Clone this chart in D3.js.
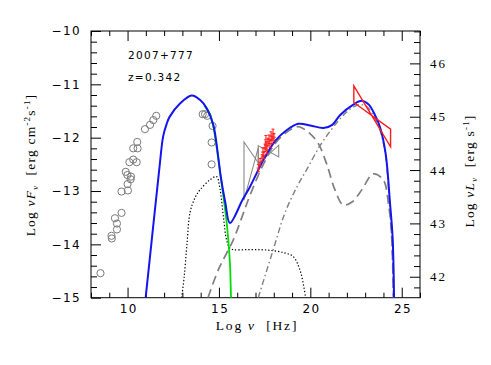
<!DOCTYPE html>
<html><head><meta charset="utf-8">
<script src="https://cdn.jsdelivr.net/npm/d3@7"></script>
<style>body{margin:0;background:#fff}svg{display:block}</style>
</head><body>
<svg id="c" width="491" height="365"></svg>
<script>
// ---------------- data ----------------
const xTicksMajor = [10, 15, 20, 25];
const yTicksMajor = [-15, -14, -13, -12, -11, -10];
const yRTicksMajor = [42, 43, 44, 45, 46];
const lumOffset = 56.607;   // log nuL_nu - log nuF_nu

// archival radio/mm/IR/optical points (gray circles)
const archNu = [8.52, 9.12, 9.14, 9.31, 9.42, 9.42, 9.67, 9.67, 10.02, 10.0, 10.17, 9.99, 9.9, 10.19,
  10.1, 10.31, 10.5, 10.31, 10.55, 10.53, 10.95, 11.23, 11.41, 11.57, 14.11, 14.24, 14.36, 14.65, 14.6, 14.6];
const archF = [-14.54, -13.84, -13.89, -13.51, -13.72, -13.61, -13.41, -13.01, -12.99, -12.87, -12.78, -12.7, -12.64, -12.73,
  -12.46, -12.41, -12.46, -12.2, -12.2, -12.08, -11.84, -11.76, -11.67, -11.59, -11.56, -11.56, -11.59, -11.78, -12.09, -12.5];

// X-ray points (red, with error bars)
const xrNu  = [17.16, 17.25, 17.36, 17.41, 17.46, 17.52, 17.57, 17.57, 17.63, 17.68, 17.74, 17.79, 17.85, 17.9, 17.96, 18.01];
const xrF   = [-12.57, -12.46, -12.38, -12.27, -12.33, -12.19, -12.14, -12.04, -12.23, -12.08, -12.03, -12.12, -11.97, -12.04, -11.93, -11.99];
const xrErr = [0.07, 0.07, 0.06, 0.08, 0.06, 0.07, 0.06, 0.08, 0.07, 0.07, 0.08, 0.06, 0.08, 0.07, 0.09, 0.07];

// gray X-ray bow-ties [nu, F] polygons
const bowGray1 = [[16.37, -12.08], [17.15, -12.47], [17.15, -12.19], [16.37, -13.17]];
const bowGray2 = [[17.15, -12.15], [18.27, -12.36], [18.27, -12.14], [17.15, -12.5]];
// Fermi bow-tie (red)
const bowFermi = [[22.38, -11.03], [24.39, -12.17], [24.39, -11.84], [22.38, -11.34]];

// model components [log nu, log nuF_nu]
const totalModel = [[10.99,-15],[11.36,-13.8],[11.73,-12.61],[11.95,-11.97],[12.14,-11.74],[12.3,-11.61],[12.87,-11.36],
  [13.51,-11.21],[13.96,-11.29],[14.33,-11.45],[14.69,-11.76],[14.96,-12.36],[15.1,-12.73],[15.35,-13.22],[15.6,-13.6],
  [16.3,-13.16],[16.7,-12.92],[17.43,-12.42],[18.1,-12.05],[18.7,-11.86],[19.34,-11.74],[20.0,-11.77],[20.71,-11.82],
  [21.2,-11.76],[21.62,-11.58],[22.35,-11.38],[22.81,-11.31],[23.2,-11.38],[23.54,-11.58],[23.81,-11.8],[24.12,-12.3],
  [24.36,-13.23],[24.5,-13.86],[24.58,-15]];
const syncModel = [[14.2,-11.4],[14.5,-11.55],[14.69,-11.78],[14.9,-12.24],[15.05,-12.62],[15.25,-13.12],[15.4,-13.52],
  [15.52,-13.95],[15.6,-14.35],[15.66,-15]];
const diskModel = [[12.96,-15],[13.1,-14.6],[13.25,-14.0],[13.42,-13.4],[13.7,-13.12],[13.96,-12.98],[14.51,-12.79],
  [14.87,-12.73],[15.05,-12.95],[15.25,-13.5],[15.42,-13.92],[15.6,-14.07],[15.8,-14.1],[16.5,-14.1],[17.3,-14.1],
  [17.97,-14.12],[18.6,-14.16],[19.07,-14.23],[19.43,-14.48],[19.62,-14.75],[19.74,-15]];
const ecModel = [[14.4,-15],[15.0,-14.45],[15.78,-13.92],[16.3,-13.45],[16.7,-13.08],[17.43,-12.5],[18.1,-12.1],
  [18.7,-11.9],[19.2,-11.8],[19.43,-11.8],[19.9,-11.9],[20.42,-12.1],[20.9,-12.5],[21.35,-12.98],[21.8,-13.26],
  [22.3,-13.2],[22.81,-12.98],[23.44,-12.68],[23.99,-12.79],[24.27,-13.23],[24.45,-13.86],[24.54,-15]];
const sscModel = [[17.15,-15],[17.97,-14.1],[18.6,-13.42],[19.27,-12.92],[19.8,-12.6],[20.53,-12.15],[21.17,-11.84],
  [21.7,-11.62],[22.2,-11.46],[22.7,-11.38],[23.1,-11.42],[23.5,-11.62],[23.85,-11.9],[24.12,-12.35],[24.34,-13.3],
  [24.48,-14.1],[24.55,-15]];

// ---------------- chart ----------------
const L = 91, R = 420, T = 31, B = 297.7;
const svg = d3.select("#c");
const x = d3.scaleLinear().domain([8, 26]).range([L, R]);
const y = d3.scaleLinear().domain([-15, -10]).range([B, T]);
const yR = d3.scaleLinear().domain([-15 + lumOffset, -10 + lumOffset]).range([B, T]);

svg.append("defs").append("clipPath").attr("id", "clip")
  .append("rect").attr("x", L).attr("y", T).attr("width", R - L).attr("height", B - T);

const tickFont = "'DejaVu Sans', sans-serif";
const serif = "'Liberation Serif', 'DejaVu Serif', serif";

function styleAxis(g) {
  g.select(".domain").remove();
  g.selectAll("line").attr("stroke", "#000").attr("stroke-width", 1);
}
const range = (a, b, s) => d3.range(Math.round((b - a) / s) + 1).map(i => +(a + i * s).toFixed(3));

// bottom
svg.append("g").attr("transform", `translate(0,${B})`)
  .call(d3.axisBottom(x).tickValues(range(8, 26, 1).filter(v => !xTicksMajor.includes(v))).tickSize(-5).tickFormat(""))
  .call(styleAxis);
svg.append("g").attr("transform", `translate(0,${B})`)
  .call(d3.axisBottom(x).tickValues(xTicksMajor).tickSize(-10).tickPadding(7).tickFormat(d3.format("d")))
  .call(styleAxis)
  .call(g => g.selectAll("text").attr("font-family", tickFont).attr("font-size", 12)
    .attr("letter-spacing", 1.4).attr("dx", 0.7).attr("fill", "#000"));
// top
svg.append("g").attr("transform", `translate(0,${T})`)
  .call(d3.axisTop(x).tickValues(range(8, 26, 1).filter(v => !xTicksMajor.includes(v))).tickSize(-5).tickFormat(""))
  .call(styleAxis);
svg.append("g").attr("transform", `translate(0,${T})`)
  .call(d3.axisTop(x).tickValues(xTicksMajor).tickSize(-10).tickFormat(""))
  .call(styleAxis);
// left
svg.append("g").attr("transform", `translate(${L},0)`)
  .call(d3.axisLeft(y).tickValues(range(-15, -10, 0.2).filter(v => !yTicksMajor.includes(v))).tickSize(-6).tickFormat(""))
  .call(styleAxis);
svg.append("g").attr("transform", `translate(${L},0)`)
  .call(d3.axisLeft(y).tickValues(yTicksMajor).tickSize(-10).tickPadding(10).tickFormat(d => "\u2212" + Math.abs(d)))
  .call(styleAxis)
  .call(g => g.selectAll("text").attr("font-family", tickFont).attr("font-size", 12)
    .attr("letter-spacing", 1.4).attr("fill", "#000"));
// right
svg.append("g").attr("transform", `translate(${R},0)`)
  .call(d3.axisRight(yR).tickValues(range(41.8, 46.6, 0.2).filter(v => !yRTicksMajor.includes(v))).tickSize(-6).tickFormat(""))
  .call(styleAxis);
svg.append("g").attr("transform", `translate(${R},0)`)
  .call(d3.axisRight(yR).tickValues(yRTicksMajor).tickSize(-10).tickPadding(10).tickFormat(d3.format("d")))
  .call(styleAxis)
  .call(g => g.selectAll("text").attr("font-family", serif).attr("font-size", 13)
    .attr("letter-spacing", 2).attr("fill", "#000"));

// frame
svg.append("rect").attr("x", L).attr("y", T).attr("width", R - L).attr("height", B - T)
  .attr("fill", "none").attr("stroke", "#000").attr("stroke-width", 1);

// plot content
const plot = svg.append("g").attr("clip-path", "url(#clip)");
const line = d3.line().x(d => x(d[0])).y(d => y(d[1])).curve(d3.curveCatmullRom.alpha(0.5));

plot.append("path").datum(diskModel).attr("d", line).attr("fill", "none")
  .attr("stroke", "#000").attr("stroke-width", 1.2).attr("stroke-dasharray", "1.3,2");
plot.append("path").datum(sscModel).attr("d", line).attr("fill", "none")
  .attr("stroke", "#7f7f7f").attr("stroke-width", 1.4).attr("stroke-dasharray", "6,3,1.5,3");
plot.append("path").datum(ecModel).attr("d", line).attr("fill", "none")
  .attr("stroke", "#7f7f7f").attr("stroke-width", 1.7).attr("stroke-dasharray", "9,5");

// archival circles
plot.selectAll("circle.arch").data(d3.zip(archNu, archF)).join("circle").attr("class", "arch")
  .attr("cx", d => x(d[0])).attr("cy", d => y(d[1])).attr("r", 3.6)
  .attr("fill", "none").attr("stroke", "#7a7a7a").attr("stroke-width", 1);

// bow-ties
const poly = d3.line().x(d => x(d[0])).y(d => y(d[1]));
[bowGray1, bowGray2].forEach(b => plot.append("path").attr("d", poly(b) + "Z")
  .attr("fill", "none").attr("stroke", "#8a8a8a").attr("stroke-width", 1.1));

plot.append("path").datum(syncModel).attr("d", line).attr("fill", "none")
  .attr("stroke", "#00e000").attr("stroke-width", 1.8);
plot.append("path").datum(totalModel).attr("d", line).attr("fill", "none")
  .attr("stroke", "#1414f0").attr("stroke-width", 2);

// X-ray points
const xr = plot.append("g").attr("stroke", "#ff1a1a").attr("stroke-width", 1);
d3.range(xrNu.length).forEach(i => {
  const cx = x(xrNu[i]), cy = y(xrF[i]);
  const y1 = y(xrF[i] + xrErr[i]), y2 = y(xrF[i] - xrErr[i]);
  xr.append("line").attr("x1", cx).attr("x2", cx).attr("y1", y1).attr("y2", y2);
  xr.append("line").attr("x1", x(xrNu[i] - 0.1)).attr("x2", x(xrNu[i] + 0.1)).attr("y1", cy).attr("y2", cy);
  xr.append("line").attr("x1", cx - 1.5).attr("x2", cx + 1.5).attr("y1", y1).attr("y2", y1);
  xr.append("line").attr("x1", cx - 1.5).attr("x2", cx + 1.5).attr("y1", y2).attr("y2", y2);
});

plot.append("path").attr("d", poly(bowFermi) + "Z")
  .attr("fill", "none").attr("stroke", "#ff1a1a").attr("stroke-width", 1.4);

// annotations
svg.append("text").attr("x", 128).attr("y", 59).attr("font-family", tickFont).attr("font-size", 10.5)
  .attr("letter-spacing", 1.3).text("2007+777");
svg.append("text").attr("x", 128).attr("y", 80.5).attr("font-family", tickFont).attr("font-size", 10.5)
  .attr("letter-spacing", 1.3).text("z=0.342");

// axis titles
const xt = svg.append("text").attr("x", 257).attr("y", 330).attr("text-anchor", "middle")
  .attr("font-family", serif).attr("font-size", 13.5).attr("letter-spacing", 1.8);
xt.append("tspan").text("Log ");
xt.append("tspan").attr("font-style", "italic").text("\u03BD");
xt.append("tspan").text("\u00A0 [Hz]");

const yt = svg.append("text").attr("transform", "translate(35,165) rotate(-90)").attr("text-anchor", "middle")
  .attr("font-family", serif).attr("font-size", 13.5).attr("letter-spacing", 1.2);
yt.append("tspan").text("Log ");
yt.append("tspan").attr("font-style", "italic").text("\u03BDF");
yt.append("tspan").attr("font-size", 9).attr("dy", 3).attr("font-style", "italic").text("\u03BD");
yt.append("tspan").attr("dy", -3).text("\u00A0 [erg cm");
yt.append("tspan").attr("font-size", 9).attr("dy", -5).text("-2");
yt.append("tspan").attr("dy", 5).text("s");
yt.append("tspan").attr("font-size", 9).attr("dy", -5).text("-1");
yt.append("tspan").attr("dy", 5).text("]");

const yr = svg.append("text").attr("transform", "translate(474,171) rotate(-90)").attr("text-anchor", "middle")
  .attr("font-family", serif).attr("font-size", 13.5).attr("letter-spacing", 1.2);
yr.append("tspan").text("Log ");
yr.append("tspan").attr("font-style", "italic").text("\u03BDL");
yr.append("tspan").attr("font-size", 9).attr("dy", 3).attr("font-style", "italic").text("\u03BD");
yr.append("tspan").attr("dy", -3).text("\u00A0 [erg s");
yr.append("tspan").attr("font-size", 9).attr("dy", -5).text("-1");
yr.append("tspan").attr("dy", 5).text("]");
</script>
</body></html>
